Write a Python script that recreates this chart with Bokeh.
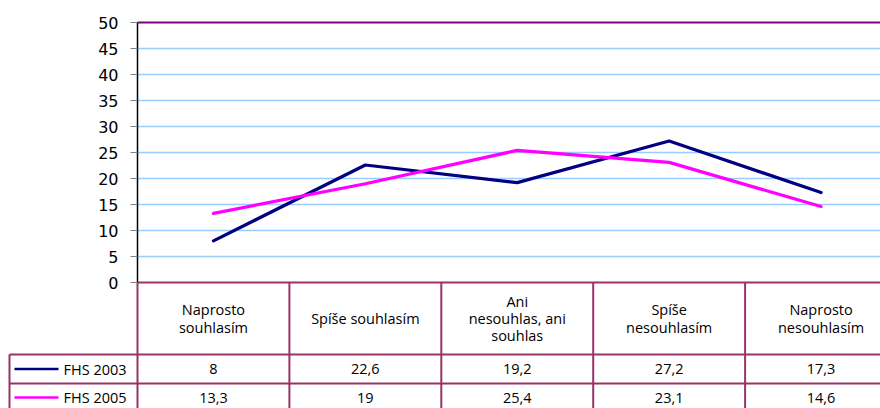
from bokeh.plotting import figure
from bokeh.models import Range1d, FixedTicker, LinearAxis
from bokeh.core.properties import value
from bokeh.embed import file_html
from bokeh.resources import INLINE

# ---- data ----
categories = ["Naprosto\nsouhlasím", "Spíše souhlasím", "Ani\nnesouhlas, ani\nsouhlas",
              "Spíše\nnesouhlasím", "Naprosto\nnesouhlasím"]
series_names = ["FHS 2003", "FHS 2005"]
fhs_2003 = [8, 22.6, 19.2, 27.2, 17.3]
fhs_2005 = [13.3, 19, 25.4, 23.1, 14.6]
y_ticks = [0, 5, 10, 15, 20, 25, 30, 35, 40, 45, 50]
series_values = [fhs_2003, fhs_2005]
series_colors = ["#000080", "#FF00FF"]

# ---- layout constants (pixels) ----
W, H = 880, 408
COL_PX = 151.9          # width of one category column
PLOT_X0 = 137           # plot-area left edge inside canvas
TOP_PAD = 22            # from canvas top to the 50 line
UNIT = 5.2              # px per value unit
HEADER_H, ROW_H = 72, 29
BORDER = "#993366"
FONT = "Open Sans"
FS = "14.5px"

def px_x(px):            # canvas px -> data x
    return (px - PLOT_X0) / COL_PX

def px_y(px_below_zero):  # px below the 0 line -> data y
    return -px_below_zero / UNIT

ymax = y_ticks[-1]
y_top = ymax + TOP_PAD / UNIT
x_end = px_x(W)
n = len(categories)

p = figure(width=W, height=H, output_backend="svg", toolbar_location=None,
           x_range=Range1d(px_x(0), x_end), y_range=Range1d(y_top - H / UNIT, y_top),
           x_axis_type=None, y_axis_type=None,
           min_border_left=0, min_border_right=0, min_border_top=0, min_border_bottom=0)
p.outline_line_color = None
p.background_fill_color = "white"

# grid lines (plot area only)
inner = y_ticks[1:-1]
p.segment(x0=[0] * len(inner), x1=[x_end] * len(inner), y0=inner, y1=inner,
          line_color="#99CCFF", line_width=1.6)
# top border of plot area
p.segment(x0=[0], x1=[x_end], y0=[ymax], y1=[ymax], line_color="#800080", line_width=2)

# y axis
yaxis = LinearAxis(fixed_location=0, bounds=(y_ticks[0], ymax), ticker=FixedTicker(ticks=y_ticks))
yaxis.axis_line_color = "#000000"
yaxis.axis_line_width = 1.5
yaxis.major_tick_line_color = "#808080"
yaxis.major_tick_out = 7
yaxis.major_tick_in = 0
yaxis.minor_tick_line_color = None
yaxis.major_label_text_font = "DejaVu Sans"
yaxis.major_label_text_font_size = "16px"
yaxis.major_label_text_color = "#000000"
yaxis.major_label_standoff = 12
p.add_layout(yaxis, "left")

# series lines
xs = [i + 0.5 for i in range(n)]
for vals, col in zip(series_values, series_colors):
    p.line(xs, vals, line_color=col, line_width=3.2, line_join="round", line_cap="round")

# ---- data table ----
y_h0 = 0
y_h1 = px_y(HEADER_H)
y_r1 = px_y(HEADER_H + ROW_H)
y_r2 = px_y(HEADER_H + 2 * ROW_H)
y_bot = y_top - H / UNIT - 1
x_leg = px_x(9)

# horizontal borders
p.segment(x0=[0, x_leg, x_leg, x_leg], x1=[x_end] * 4, y0=[y_h0, y_h1, y_r1, y_r2],
          y1=[y_h0, y_h1, y_r1, y_r2], line_color=BORDER, line_width=2)
# vertical borders
vx = list(range(n + 1))
p.segment(x0=vx, x1=vx, y0=[y_h0] * len(vx), y1=[y_bot] * len(vx), line_color=BORDER, line_width=2)
p.segment(x0=[x_leg], x1=[x_leg], y0=[y_h1], y1=[y_bot], line_color=BORDER, line_width=2)

# header labels
p.text(x=xs, y=[(y_h0 + y_h1) / 2] * n, text=categories, text_font=value(FONT),
       text_font_size=FS, text_align="center", text_baseline="middle",
       text_line_height=0.9, text_color="#000000")

# data rows
row_centers = [(y_h1 + y_r1) / 2, px_y(HEADER_H + ROW_H + 14)]
def fmt(v):
    return f"{v:g}".replace(".", ",")
for vals, col, name, yc in zip(series_values, series_colors, series_names, row_centers):
    p.text(x=xs, y=[yc] * n, text=[fmt(v) for v in vals], text_font=value(FONT),
           text_font_size=FS, text_align="center", text_baseline="middle", text_color="#000000")
    p.segment(x0=[px_x(14)], x1=[px_x(58)], y0=[yc], y1=[yc], line_color=col, line_width=2.5)
    p.text(x=[px_x(63)], y=[yc], text=[name], text_font=value(FONT), text_font_size=FS,
           text_align="left", text_baseline="middle", text_color="#000000")

open("out.html", "w").write(file_html(p, INLINE))
